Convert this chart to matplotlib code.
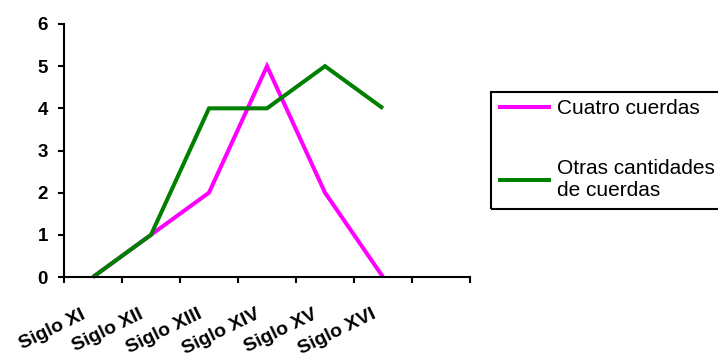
import matplotlib
matplotlib.use("Agg")
import matplotlib.pyplot as plt
import matplotlib.transforms as mtransforms
from matplotlib.patches import Rectangle
import numpy as np

# chart data
siglos = ["Siglo XI", "Siglo XII", "Siglo XIII", "Siglo XIV", "Siglo XV", "Siglo XVI"]
cuatro_cuerdas = [0, 1, 2, 5, 2, 0]
otras_cuerdas = [0, 1, 4, 4, 5, 4]
n_slots = 7  # category axis has one empty slot at the end

plt.rcParams["font.family"] = ["Liberation Sans", "DejaVu Sans"]

W, H = 718, 358
fig = plt.figure(figsize=(W / 100, H / 100), dpi=100)
ax = fig.add_axes([64 / W, 81 / H, (470 - 64) / W, (277 - 24) / H])

x = np.arange(len(siglos)) + 0.5
l1, = ax.plot(x, cuatro_cuerdas, color="#FF00FF", lw=2.9, solid_capstyle="butt",
              solid_joinstyle="miter", label="Cuatro cuerdas")
l2, = ax.plot(x, otras_cuerdas, color="#008000", lw=2.9, solid_capstyle="butt",
              solid_joinstyle="miter", label="Otras cantidades\nde cuerdas")

ax.set_xlim(0, n_slots)
ax.set_ylim(0, 6)
ax.set_yticks(range(0, 7))
ax.set_yticklabels([str(v) for v in range(0, 7)], fontsize=13.5, fontweight="bold")
ax.set_xticks(range(0, n_slots + 1))
ax.set_xticklabels([])
ax.set_xticks(x, minor=True)
ax.set_xticklabels(siglos, minor=True, rotation=26, ha="right", va="top",
                   rotation_mode="anchor", fontsize=14, fontweight="bold")
ax.tick_params(axis="x", which="minor", length=0, pad=21)
ax.tick_params(axis="both", which="major", direction="out", length=4.5, width=1.5)
ax.tick_params(axis="y", pad=7)

# shift the rotated category labels a bit to the left, like the original
shift = mtransforms.ScaledTranslation(-12 / 100, 0, fig.dpi_scale_trans)
for lab in ax.get_xticklabels(minor=True):
    lab.set_transform(lab.get_transform() + shift)

for side in ("top", "right"):
    ax.spines[side].set_visible(False)
for side in ("left", "bottom"):
    ax.spines[side].set_linewidth(1.5)
    ax.spines[side].set_color("black")
l1.set_clip_on(False)
l2.set_clip_on(False)

leg = fig.legend(handles=[l1, l2], loc="upper left",
                 bbox_to_anchor=(491 / W, 1 - 92 / H),
                 frameon=False, fontsize=15, handlelength=2.55,
                 handletextpad=0.25, labelspacing=1.95, borderpad=0.35,
                 borderaxespad=0)

# legend box runs past the right edge of the picture, as in the original
fig.patches.append(Rectangle((491 / W, 1 - 209 / H), 260 / W, (209 - 92) / H,
                             transform=fig.transFigure, fill=False,
                             edgecolor="black", linewidth=1.5))

fig.savefig("out.png", dpi=100, facecolor="white")
